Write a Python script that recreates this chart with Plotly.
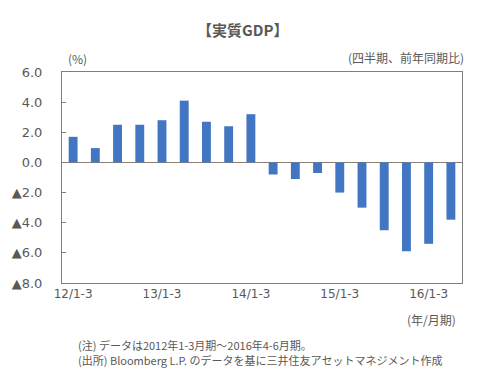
import plotly.graph_objects as go

quarters = ["12/1-3", "12/4-6", "12/7-9", "12/10-12",
            "13/1-3", "13/4-6", "13/7-9", "13/10-12",
            "14/1-3", "14/4-6", "14/7-9", "14/10-12",
            "15/1-3", "15/4-6", "15/7-9", "15/10-12",
            "16/1-3", "16/4-6"]
gdp_yoy = [1.7, 0.95, 2.5, 2.5, 2.8, 4.1, 2.7, 2.4, 3.2,
           -0.8, -1.1, -0.7, -2.0, -3.0, -4.5, -5.9, -5.4, -3.8]
tick_labels = ["12/1-3", "13/1-3", "14/1-3", "15/1-3", "16/1-3"]
y_ticks = [6, 4, 2, 0, -2, -4, -6, -8]
y_tick_text = ["6.0", "4.0", "2.0", "0.0", "▲2.0", "▲4.0", "▲6.0", "▲8.0"]

txt = "#595959"
font = "DejaVu Sans, Noto Sans CJK JP"
jp = "Noto Sans CJK JP"

fig = go.Figure(go.Bar(x=quarters, y=gdp_yoy, marker=dict(color="#4276C2", line=dict(width=0))))

fig.update_layout(
    width=489, height=388,
    margin=dict(l=62, r=27, t=72, b=105),
    paper_bgcolor="white", plot_bgcolor="white",
    bargap=0.6, showlegend=False,
    font=dict(family=font, size=12, color=txt),
)
fig.update_xaxes(
    type="category", tickmode="array", tickvals=tick_labels, ticktext=tick_labels,
    showline=True, linecolor="#7F7F7F", linewidth=1, mirror=True,
    ticks="", showgrid=False, tickfont=dict(size=12, color=txt, family=font),
    range=[-0.5, 17.5],
)
fig.update_yaxes(
    range=[-8, 6], tickmode="array", tickvals=y_ticks, ticktext=y_tick_text,
    showline=True, linecolor="#7F7F7F", linewidth=1, mirror=True,
    ticks="inside", ticklen=4, tickcolor="#7F7F7F",
    showgrid=False, zeroline=True, zerolinecolor="#8C7F72", zerolinewidth=1,
    tickfont=dict(size=13, color=txt, family=font), ticklabelstandoff=16,
)

pw = 489 - 62 - 27
ph = 388 - 72 - 105
ann = [
    dict(text="<b>【実質GDP】</b>", x=242, y=29, font=dict(size=15, family=jp, color=txt), xanchor="center"),
    dict(text="(%)", x=66, y=59, font=dict(size=12, family=jp, color=txt), xanchor="left"),
    dict(text="(四半期、前年同期比)", x=466, y=57, font=dict(size=12, family=jp, color=txt), xanchor="right"),
    dict(text="(年/月期)", x=458, y=319, font=dict(size=12, family=jp, color=txt), xanchor="right"),
    dict(text="(注) データは2012年1-3月期～2016年4-6月期。", x=76, y=345, font=dict(size=11, family=jp, color=txt), xanchor="left"),
    dict(text="(出所) Bloomberg L.P. のデータを基に三井住友アセットマネジメント作成", x=76, y=360, font=dict(size=11, family=jp, color=txt), xanchor="left"),
]
for a in ann:
    fig.add_annotation(text=a["text"], x=(a["x"] - 62) / pw, y=(388 - 105 - a["y"]) / ph,
                       xref="paper", yref="paper", showarrow=False, font=a["font"],
                       xanchor=a["xanchor"], yanchor="middle")

fig.write_html("out.html", config={"displayModeBar": False},
               post_script="document.body.style.margin='0';")
